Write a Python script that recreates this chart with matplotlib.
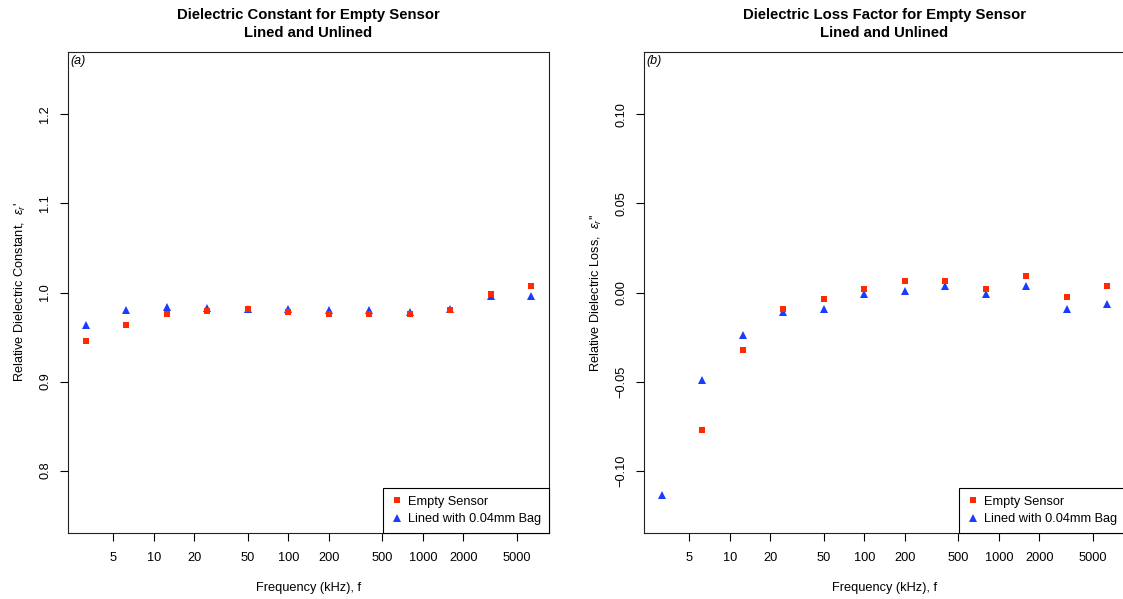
import numpy as np
import matplotlib
matplotlib.use("Agg")
import matplotlib.pyplot as plt
from matplotlib.lines import Line2D

plt.rcParams['font.family'] = ['Liberation Sans', 'DejaVu Sans']
plt.rcParams['mathtext.fontset'] = 'custom'
plt.rcParams['mathtext.it'] = 'Liberation Sans:italic'
plt.rcParams['mathtext.rm'] = 'Liberation Sans'

# frequencies (kHz)
freq = [3.125, 6.25, 12.5, 25, 50, 100, 200, 400, 800, 1600, 3200, 6400]

# (a) relative dielectric constant
const_empty = [0.946, 0.964, 0.976, 0.979, 0.981, 0.978, 0.976, 0.976, 0.976, 0.980, 0.998, 1.007]
const_lined = [0.964, 0.980, 0.984, 0.983, 0.982, 0.982, 0.980, 0.980, 0.978, 0.982, 0.996, 0.996]

# (b) relative dielectric loss (first empty-sensor point falls below the plot)
loss_empty = [np.nan, -0.0772, -0.0325, -0.0090, -0.0034, 0.0022, 0.0062, 0.0067, 0.0022, 0.0090, -0.0028, 0.0039]
loss_lined = [-0.1138, -0.0489, -0.0241, -0.0112, -0.0093, -0.0011, 0.0011, 0.0034, -0.0006, 0.0039, -0.0090, -0.0062]

xticks = [5, 10, 20, 50, 100, 200, 500, 1000, 2000, 5000]

red = '#ff2a00'
blue = '#1a3cff'

W, H = 1123, 599
fig = plt.figure(figsize=(W / 100, H / 100), dpi=100)

fs = 9.2


def panel(left_px, title, ylab, tag, y_empty, y_lined, ylim, yticks, yfmt):
    ax = fig.add_axes([left_px / W, (H - 533) / H, 481 / W, 481 / H])
    ax.plot(freq, y_lined, linestyle='none', marker='^', ms=5.8, color=blue, mec=blue, mew=0)
    ax.plot(freq, y_empty, linestyle='none', marker='s', ms=5, color=red, mec=red, mew=0)
    ax.set_xscale('log')
    lo, hi = np.log10(min(freq)), np.log10(max(freq))
    pad = 0.04 * (hi - lo)
    ax.set_xlim(10 ** (lo - pad), 10 ** (hi + pad))
    ax.set_ylim(*ylim)
    ax.set_xticks(xticks)
    ax.set_xticklabels([str(t) for t in xticks])
    ax.xaxis.set_minor_locator(matplotlib.ticker.NullLocator())
    ax.set_yticks(yticks)
    ax.set_yticklabels([yfmt.format(t).replace('-', '\u2212') for t in yticks],
                       rotation=90, va='center')
    ax.tick_params(axis='both', direction='out', length=6, width=0.8, labelsize=fs, color='black')
    ax.tick_params(axis='x', pad=8)
    ax.tick_params(axis='y', pad=6)
    for s in ax.spines.values():
        s.set_linewidth(0.8)
        s.set_color('#222222')
    ax.set_xlabel('Frequency (kHz), f', fontsize=fs, labelpad=13)
    ax.set_ylabel(ylab, fontsize=fs, labelpad=8)
    ax.set_title(title, fontsize=10.7, fontweight='bold', pad=11, linespacing=1.35)
    ax.text(0.004, 0.993, tag, transform=ax.transAxes, ha='left', va='top',
            fontsize=9, style='italic')
    handles = [Line2D([], [], linestyle='none', marker='s', ms=5, color=red, mew=0),
               Line2D([], [], linestyle='none', marker='^', ms=5.8, color=blue, mew=0)]
    leg = ax.legend(handles, ['Empty Sensor', 'Lined with 0.04mm Bag'], loc='lower right',
                    fontsize=fs, frameon=True, fancybox=False, framealpha=1,
                    edgecolor='black', borderaxespad=0, handlelength=1.0,
                    handletextpad=0.4, labelspacing=0.45, borderpad=0.6)
    leg.get_frame().set_linewidth(0.8)
    return ax


panel(68, 'Dielectric Constant for Empty Sensor\nLined and Unlined',
      "Relative Dielectric Constant,  $\\varepsilon_r$'", '(a)',
      const_empty, const_lined, (0.73, 1.27), [0.8, 0.9, 1.0, 1.1, 1.2], '{:.1f}')

panel(644, 'Dielectric Loss Factor for Empty Sensor\nLined and Unlined',
      "Relative Dielectric Loss,  $\\varepsilon_r$''", '(b)',
      loss_empty, loss_lined, (-0.135, 0.135), [-0.10, -0.05, 0.0, 0.05, 0.10], '{:.2f}')

fig.savefig('out.png', dpi=100)
